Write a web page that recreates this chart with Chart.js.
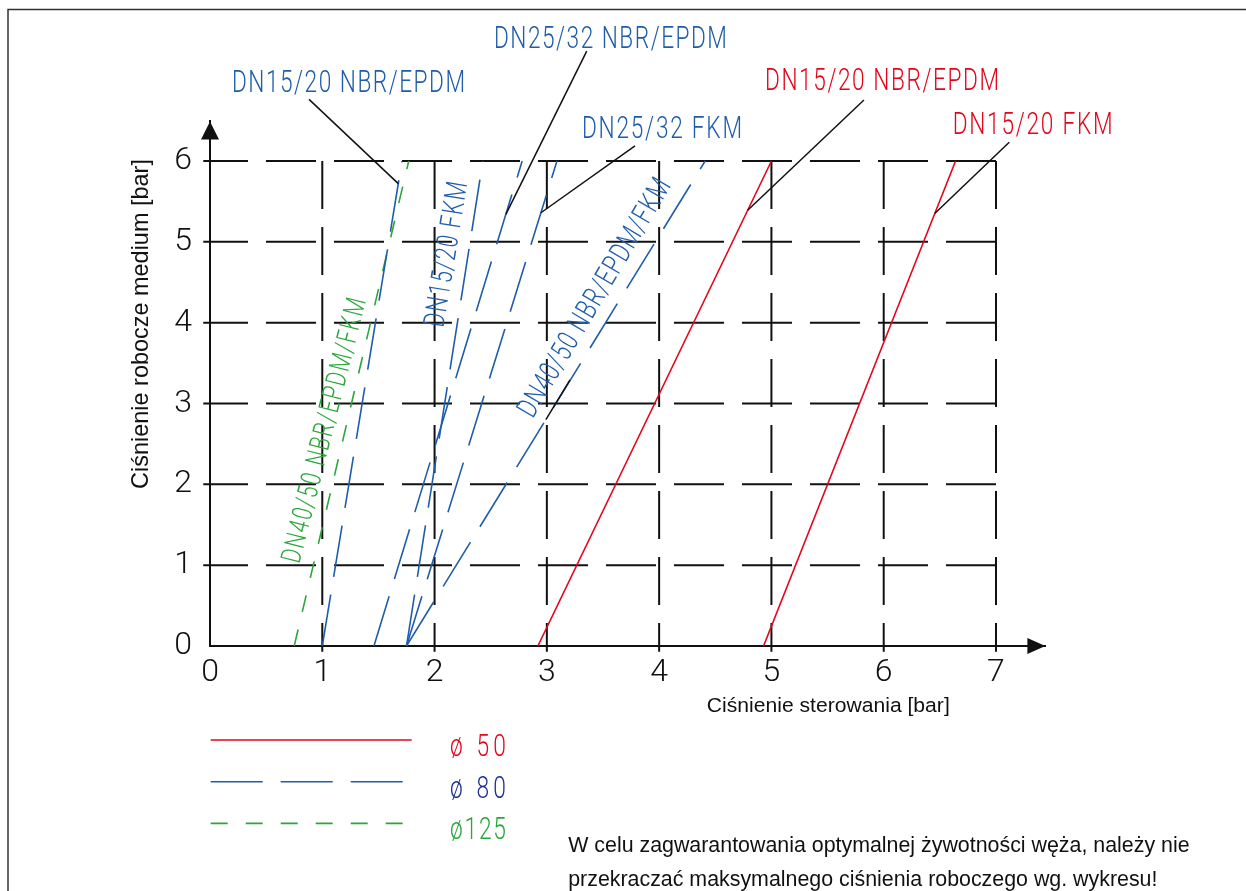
<!DOCTYPE html>
<html>
<head>
<meta charset="utf-8">
<title>Ciśnienie robocze medium / Ciśnienie sterowania</title>
<script src="https://cdn.jsdelivr.net/npm/chart.js@4.4.1/dist/chart.umd.min.js"></script>
<style>
  html, body { margin: 0; padding: 0; background: #fff; }
  #wrap { position: relative; width: 1246px; height: 891px; }
</style>
</head>
<body>
<div id="wrap"><canvas id="pressureChart"></canvas></div>
<script>
// tick labels
const controlTicks = [0, 1, 2, 3, 4, 5, 6, 7];   // Ciśnienie sterowania [bar]
const mediumTicks = [0, 1, 2, 3, 4, 5, 6];       // Ciśnienie robocze medium [bar]

// every curve is a straight line from 0 bar to 6 bar medium pressure
const lineEndsMedium = [0, 6];
// control pressure read at those two medium pressures
const red1520NbrEpdm = [2.92, 5.00];
const red1520Fkm = [4.93, 6.64];
const blue1520NbrEpdm = [1.00, 1.71];
const blue1520Fkm = [1.75, 2.43];
const blue2532NbrEpdm = [1.46, 2.78];
const blue2532Fkm = [1.75, 3.09];
const blue4050All = [1.75, 4.41];
const green4050All = [0.75, 1.77];

const RED = '#e3061b';
const BLUE = '#1f5dab';
const NAVY = '#1c3190';
const GREEN = '#2aa63a';
const INK = '#111';

const styles = {
  d50: { color: RED, width: 1.6, dash: [] },
  d80: { color: BLUE, width: 1.6, dash: [52, 18] },
  d125: { color: GREEN, width: 1.6, dash: [17, 18] }
};

const curves = [
  { name: 'DN15/20 NBR/EPDM ø50', values: red1520NbrEpdm, style: styles.d50 },
  { name: 'DN15/20 FKM ø50', values: red1520Fkm, style: styles.d50 },
  { name: 'DN15/20 NBR/EPDM ø80', values: blue1520NbrEpdm, style: styles.d80 },
  { name: 'DN15/20 FKM ø80', values: blue1520Fkm, style: styles.d80 },
  { name: 'DN25/32 NBR/EPDM ø80', values: blue2532NbrEpdm, style: styles.d80 },
  { name: 'DN25/32 FKM ø80', values: blue2532Fkm, style: styles.d80 },
  { name: 'DN40/50 NBR/EPDM/FKM ø80', values: blue4050All, style: styles.d80 },
  { name: 'DN40/50 NBR/EPDM/FKM ø125', values: green4050All, style: styles.d125 }
];

// labels above the plot with a leader to a point on the curve
const callouts = [
  { text: 'DN15/20 NBR/EPDM', color: BLUE, x: 0.196, y: 6.848, width: 233, from: [0.882, 6.762], curve: blue1520NbrEpdm, at: 5.72 },
  { text: 'DN25/32 NBR/EPDM', color: BLUE, x: 2.529, y: 7.402, width: 233, from: [3.355, 7.359], curve: blue2532NbrEpdm, at: 5.34 },
  { text: 'DN25/32 FKM', color: BLUE, x: 3.313, y: 6.285, width: 160, from: [3.785, 6.187], curve: blue2532Fkm, at: 5.36 },
  { text: 'DN15/20 NBR/EPDM', color: RED, x: 4.943, y: 6.879, width: 234, from: [5.824, 6.755], curve: red1520NbrEpdm, at: 5.39 },
  { text: 'DN15/20 FKM', color: RED, x: 6.614, y: 6.334, width: 160, from: [7.118, 6.232], curve: red1520Fkm, at: 5.35 }
];

// labels written along the curves
const slanted = [
  { text: 'DN40/50 NBR/EPDM/FKM', color: GREEN, x: 0.795, y: 1.011, angle: -75.8, width: 272, cap: 20 },
  { text: 'DN15/20 FKM', color: BLUE, x: 2.078, y: 3.93, angle: -80.6, width: 147, cap: 21 },
  { text: 'DN40/50 NBR/EPDM/FKM', color: BLUE, x: 2.874, y: 2.805, angle: -59.3, width: 272, cap: 21,
    from: [3.206, 3.291], curve: blue4050All, at: 2.8 }
];

const legendItems = [
  { label: 'ø 50', style: styles.d50, textColor: RED, length: 201 },
  { label: 'ø 80', style: styles.d80, textColor: NAVY, length: 192 },
  { label: 'ø125', style: styles.d125, textColor: GREEN, length: 192 }
];

const noteLines = [
  'W celu zagwarantowania optymalnej żywotności węża, należy nie',
  'przekraczać maksymalnego ciśnienia roboczego wg. wykresu!'
];

const ISO_FONT = 'Roboto, "DejaVu Sans", sans-serif';
const SANS_FONT = '"Liberation Sans", Arial, sans-serif';

function pointOn(curve, y) {
  return curve[0] + (curve[1] - curve[0]) * y / 6;
}

// narrow technical lettering: narrow glyphs, spaced out to the wanted width
function isoText(ctx, text, x, y, angle, color, width, cap) {
  ctx.save();
  const size = cap / 0.711;
  const squeeze = 0.72;
  ctx.font = '300 ' + size + 'px ' + ISO_FONT;
  ctx.letterSpacing = '0px';
  const w = ctx.measureText(text).width;
  const spacing = (width / squeeze - w) / Math.max(text.length - 1, 1);
  ctx.letterSpacing = spacing + 'px';
  ctx.translate(x, y);
  ctx.rotate(angle * Math.PI / 180);
  ctx.scale(squeeze, 1);
  ctx.fillStyle = color;
  ctx.textBaseline = 'alphabetic';
  ctx.textAlign = 'left';
  ctx.fillText(text, 0, 0);
  ctx.restore();
}

function fitSize(ctx, text, family, width) {
  ctx.font = '100px ' + family;
  return 100 * width / ctx.measureText(text).width;
}

function leader(ctx, x1, y1, x2, y2) {
  ctx.save();
  ctx.strokeStyle = INK;
  ctx.lineWidth = 1.5;
  ctx.setLineDash([]);
  ctx.beginPath();
  ctx.moveTo(x1, y1);
  ctx.lineTo(x2, y2);
  ctx.stroke();
  ctx.restore();
}

const drawingPlugin = {
  id: 'drawing',
  beforeDraw(chart) {
    const ctx = chart.ctx;
    ctx.save();
    ctx.strokeStyle = '#333';
    ctx.lineWidth = 1.5;
    ctx.beginPath();
    ctx.moveTo(8, chart.height);
    ctx.lineTo(8, 9.5);
    ctx.lineTo(chart.width, 9.5);
    ctx.stroke();
    ctx.restore();
  },
  beforeDatasetsDraw(chart) {
    const { ctx, scales: { x, y } } = chart;
    ctx.save();
    ctx.strokeStyle = INK;
    ctx.lineWidth = 2;
    ctx.setLineDash([50, 18]);
    mediumTicks.slice(1).forEach(v => {
      const py = y.getPixelForValue(v);
      ctx.beginPath();
      ctx.moveTo(x.getPixelForValue(7), py);
      ctx.lineTo(x.getPixelForValue(-0.06), py);
      ctx.stroke();
    });
    ctx.setLineDash([48, 18]);
    controlTicks.slice(1).forEach(v => {
      const px = x.getPixelForValue(v);
      ctx.beginPath();
      ctx.moveTo(px, y.getPixelForValue(6));
      ctx.lineTo(px, y.getPixelForValue(-0.07));
      ctx.stroke();
    });
    ctx.restore();
  },
  afterDraw(chart) {
    const { ctx, chartArea: area, scales: { x, y } } = chart;

    // arrow heads on the axes
    ctx.save();
    ctx.fillStyle = INK;
    ctx.beginPath();
    ctx.moveTo(area.left, area.top);
    ctx.lineTo(area.left - 9, area.top + 18);
    ctx.lineTo(area.left + 9, area.top + 18);
    ctx.closePath();
    ctx.fill();
    ctx.beginPath();
    ctx.moveTo(area.right, area.bottom);
    ctx.lineTo(area.right - 18, area.bottom - 8);
    ctx.lineTo(area.right - 18, area.bottom + 8);
    ctx.closePath();
    ctx.fill();
    ctx.restore();

    callouts.forEach(c => {
      isoText(ctx, c.text, x.getPixelForValue(c.x), y.getPixelForValue(c.y), 0, c.color, c.width, 22.4);
      leader(ctx, x.getPixelForValue(c.from[0]), y.getPixelForValue(c.from[1]),
        x.getPixelForValue(pointOn(c.curve, c.at)), y.getPixelForValue(c.at));
    });

    slanted.forEach(s => {
      isoText(ctx, s.text, x.getPixelForValue(s.x), y.getPixelForValue(s.y), s.angle, s.color, s.width, s.cap);
      if (s.from) {
        leader(ctx, x.getPixelForValue(s.from[0]), y.getPixelForValue(s.from[1]),
          x.getPixelForValue(pointOn(s.curve, s.at)), y.getPixelForValue(s.at));
      }
    });

    // legend
    legendItems.forEach((item, i) => {
      const ly = area.bottom + 94 + i * 41.7;
      ctx.save();
      ctx.strokeStyle = item.style.color;
      ctx.lineWidth = item.style.width;
      ctx.setLineDash(item.style.dash);
      ctx.beginPath();
      ctx.moveTo(area.left + 0.7, ly);
      ctx.lineTo(area.left + 0.7 + item.length, ly);
      ctx.stroke();
      ctx.restore();
      isoText(ctx, item.label, area.left + 240, ly + 16, 0, item.textColor, 56, 22.5);
    });

    // axis titles
    ctx.save();
    ctx.fillStyle = INK;
    ctx.textAlign = 'center';
    ctx.textBaseline = 'middle';
    const yTitle = 'Ciśnienie robocze medium [bar]';
    ctx.font = fitSize(ctx, yTitle, SANS_FONT, 330) + 'px ' + SANS_FONT;
    ctx.translate(area.left - 68, 324);
    ctx.rotate(-Math.PI / 2);
    ctx.fillText(yTitle, 0, 0);
    ctx.restore();

    ctx.save();
    ctx.fillStyle = INK;
    ctx.textAlign = 'left';
    ctx.textBaseline = 'middle';
    const xTitle = 'Ciśnienie sterowania [bar]';
    ctx.font = fitSize(ctx, xTitle, SANS_FONT, 243) + 'px ' + SANS_FONT;
    ctx.fillText(xTitle, x.getPixelForValue(4.425), area.bottom + 60);
    ctx.restore();

    // note
    ctx.save();
    ctx.fillStyle = INK;
    ctx.textAlign = 'left';
    ctx.textBaseline = 'middle';
    ctx.font = fitSize(ctx, noteLines[0], SANS_FONT, 622) + 'px ' + SANS_FONT;
    noteLines.forEach((t, i) => ctx.fillText(t, x.getPixelForValue(3.19), 846 + i * 34));
    ctx.restore();
  }
};

const datasets = curves.map(c => ({
  label: c.name,
  data: lineEndsMedium.map((m, i) => ({ x: c.values[i], y: m })),
  showLine: true,
  borderColor: c.style.color,
  borderWidth: c.style.width,
  borderDash: c.style.dash,
  pointRadius: 0,
  fill: false
}));

const tickFont = { family: ISO_FONT, size: 32, weight: '300' };

function renderPressureChart() {
  const ctx = document.getElementById('pressureChart').getContext('2d');
  new Chart(ctx, {
    type: 'scatter',
    data: { datasets: datasets },
    options: {
      responsive: true,
      maintainAspectRatio: false,
      animation: false,
      layout: { padding: { left: 0, top: 121.4, right: 200.6, bottom: 0 } },
      plugins: {
        legend: { display: false },
        tooltip: { enabled: false }
      },
      scales: {
        x: {
          type: 'linear',
          min: 0,
          max: 7.44,
          afterFit: scale => { scale.height = 245; },
          grid: { display: false, drawTicks: false },
          border: { display: true, color: INK, width: 2 },
          ticks: {
            stepSize: 1,
            includeBounds: false,
            autoSkip: false,
            maxRotation: 0,
            padding: 8,
            color: INK,
            font: tickFont,
            callback: v => controlTicks.includes(v) ? String(v) : ''
          }
        },
        y: {
          type: 'linear',
          min: 0,
          max: 6.49,
          afterFit: scale => { scale.width = 210; },
          grid: { display: false, drawTicks: false },
          border: { display: true, color: INK, width: 2 },
          ticks: {
            stepSize: 1,
            includeBounds: false,
            autoSkip: false,
            padding: 18,
            color: INK,
            font: tickFont,
            callback: v => mediumTicks.includes(v) ? String(v) : ''
          }
        }
      }
    },
    plugins: [drawingPlugin]
  });
}

document.addEventListener('DOMContentLoaded', renderPressureChart);
</script>
</body>
</html>
